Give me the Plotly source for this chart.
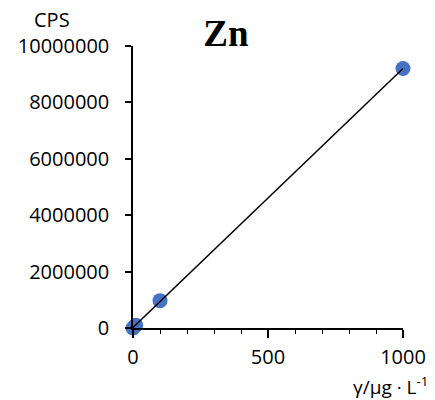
import numpy as np
import plotly.graph_objects as go

conc = [0, 10, 100, 1000]
cps = [0, 95000, 970000, 9200000]
x_ticks = [0, 500, 1000]
y_ticks = [0, 2000000, 4000000, 6000000, 8000000, 10000000]

slope, intercept = np.polyfit(conc, cps, 1)
fit_x = [min(conc), max(conc)]
fit_y = [slope * v + intercept for v in fit_x]

W, H = 435, 400
L, R, T, B = 133, 32, 46, 72
PW, PH = W - L - R, H - T - B


def px(x):
    return (x - L) / PW


def py(y):
    return (H - B - y) / PH


font = "Open Sans"
fig = go.Figure()
fig.add_trace(go.Scatter(x=conc, y=cps, mode="markers",
                         marker=dict(color="#4472C4", size=15),
                         cliponaxis=False, showlegend=False))
fig.add_trace(go.Scatter(x=fit_x, y=fit_y, mode="lines",
                         line=dict(color="black", width=1.5),
                         cliponaxis=False, showlegend=False))

fig.update_layout(
    width=W, height=H,
    margin=dict(l=L, r=R, t=T, b=B, autoexpand=False),
    paper_bgcolor="white", plot_bgcolor="white",
    title=dict(text="<b>Zn</b>", x=226 / W, xanchor="center", y=1 - 33 / H, yanchor="middle",
               font=dict(family="Liberation Serif", size=37, color="black")),
    xaxis=dict(range=[0, 1000], tickvals=x_ticks, ticks="outside", ticklen=8, tickwidth=1.5,
               tickcolor="black", showline=True, linecolor="black", linewidth=1.5,
               showgrid=False, zeroline=False,
               minor=dict(dtick=100, ticks="outside", ticklen=4, tickwidth=1.2, tickcolor="black", showgrid=False),
               tickfont=dict(family=font, size=20, color="black"), ticklabelstandoff=2),
    yaxis=dict(range=[0, 10000000], tickvals=y_ticks, ticks="outside", ticklen=6, tickwidth=1.5,
               tickcolor="black", showline=True, linecolor="black", linewidth=1.5,
               showgrid=False, zeroline=False, tickformat="d",
               tickfont=dict(family=font, size=20, color="black"), ticklabelstandoff=12),
    annotations=[
        dict(text="CPS", x=px(52), y=py(20), xref="paper", yref="paper",
             xanchor="center", yanchor="middle", showarrow=False,
             font=dict(family=font, size=20, color="black")),
        dict(text="γ/μg · L<sup>-1</sup>", x=px(430), y=py(386), xref="paper", yref="paper",
             xanchor="right", yanchor="middle", showarrow=False,
             font=dict(family=font, size=19, color="black")),
    ],
)
fig.write_html("out.html", config={"displayModeBar": False},
               post_script="document.body.style.margin='0';document.body.style.overflow='hidden';")
